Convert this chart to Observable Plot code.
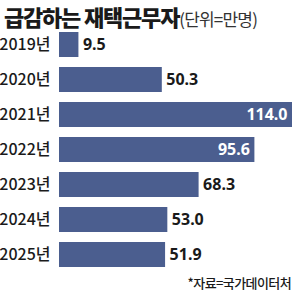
<!DOCTYPE html>
<html><head><meta charset="utf-8">
<script src="https://cdn.jsdelivr.net/npm/d3@7"></script>
<script src="https://cdn.jsdelivr.net/npm/@observablehq/plot@0.6"></script>
<style>
html,body{margin:0;padding:0;background:#fff;}
#wrap{position:relative;width:300px;height:292px;overflow:hidden;font-family:"Noto Sans CJK KR","Noto Sans",sans-serif;}
#title{position:absolute;left:4px;top:0px;line-height:normal;white-space:nowrap;color:#1a1a1a;}
#title b{font-size:22px;font-weight:900;letter-spacing:-1.2px;}
#title span{font-size:17px;font-weight:400;letter-spacing:-0.8px;color:#333;}
#cap{position:absolute;right:9px;top:273px;font-size:13px;font-weight:500;letter-spacing:-0.6px;color:#1a1a1a;white-space:nowrap;}
#chart{position:absolute;left:0;top:0;}
</style></head>
<body><div id="wrap"><div id="chart"></div>
<div id="title"><b>급감하는 재택근무자</b><span>(단위=만명)</span></div>
<div id="cap">*자료=국가데이터처</div></div>
<script>
const years = ["2019년","2020년","2021년","2022년","2023년","2024년","2025년"];
const values = [9.5, 50.3, 114.0, 95.6, 68.3, 53.0, 51.9];
const data = years.map((y,i)=>({year:y, value:values[i]}));
const barColor = "#4b5e8f";
const inside = d => d.value > 90;
const chart = Plot.plot({
  width: 300, height: 292,
  marginTop: 29, marginBottom: 23, marginLeft: 59, marginRight: 8,
  x: {domain:[0,114], axis:null},
  y: {domain: years, paddingInner: 0.29, paddingOuter: 0},
  style: {background:"transparent"},
  marks: [
    Plot.barX(data, {y:"year", x:"value", fill: barColor}),
    Plot.axisY({tickSize:0, tickPadding:9, fontSize:16, fontFamily:"Noto Sans CJK KR", fill:"#1a1a1a", fontWeight:500, label:null, style:"letter-spacing:-1.5px"}),
    Plot.text(data.filter(d=>!inside(d)), {y:"year", x:"value", text: d=>d.value.toFixed(1), textAnchor:"start", dx:4, fontSize:16, fontWeight:"bold", fontFamily:"Noto Sans", fill:"#1a1a1a", style:"letter-spacing:-1.6px"}),
    Plot.text(data.filter(inside), {y:"year", x:"value", text: d=>d.value.toFixed(1), textAnchor:"end", dx:-5, fontSize:16, fontWeight:"bold", fontFamily:"Noto Sans", fill:"#fff", style:"letter-spacing:-1.6px"})
  ]
});
document.getElementById("chart").appendChild(chart);
</script></body></html>
